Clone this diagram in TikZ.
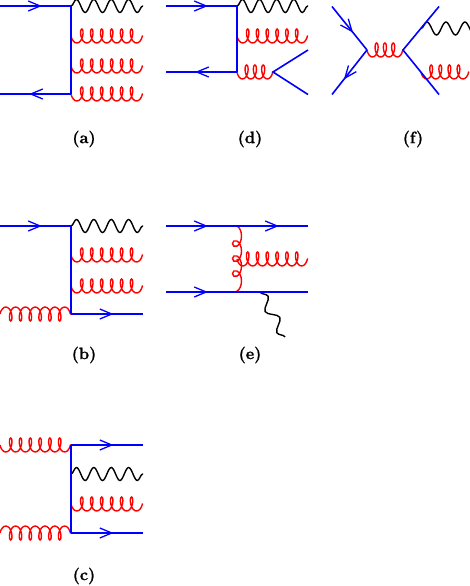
\documentclass[tikz,border=0pt]{standalone}
\usepackage{fontspec}
\usepackage{tikz}
\usepackage{xcolor}
\usetikzlibrary{arrows.meta,decorations.pathmorphing,decorations.markings}

\newfontfamily\capfont{Latin Modern Roman}[BoldFeatures={FakeBold=1}]

\definecolor{qblue}{RGB}{0,0,255}
\definecolor{gred}{RGB}{255,0,0}

\tikzset{
    quark/.style={qblue,line width=1.6pt},
    fermion/.style={quark,postaction={decorate},decoration={markings,
        mark=at position #1 with {\arrow{Straight Barb[length=12pt,width=10pt,line width=1.3pt]}}}},
    fermion/.default=0.59,
    gluon/.style={gred,line width=1.4pt,decorate,decoration={coil,amplitude=7pt,segment length=#1,aspect=0.48,mirror}},
    gluon/.default=9.95pt,
    gluonflip/.style={gred,line width=1.4pt,decorate,decoration={coil,amplitude=7pt,segment length=#1,aspect=0.48}},
    gluonflip/.default=9.8pt,
    tinygluon/.style={gred,line width=1.4pt,decorate,decoration={coil,amplitude=4.5pt,segment length=15pt,aspect=1.4}},
    photon/.style={black,line width=1.4pt,decorate,decoration={snake,amplitude=6.5pt,segment length=#1}},
    photon/.default=17.4pt,
    tinyphoton/.style={black,line width=1.4pt,decorate,decoration={snake,amplitude=5pt,segment length=24.2pt}},
    caption/.style={font=\capfont\bfseries\fontsize{16.5}{18}\selectfont}
}

\begin{document}
\begin{tikzpicture}[x=1pt,y=-1pt]
    \useasboundingbox (0,0) rectangle (469,586);

    % (a)
    \coordinate (a1) at (0,6);
    \coordinate (a2) at (71,6);
    \coordinate (a3) at (71,94);
    \coordinate (a4) at (0,94);
    \coordinate (a5) at (143,6);
    \foreach \y in {36,66,94} {
        \coordinate (s) at (71,\y);
        \coordinate (t) at (143,\y);
        \draw[gluon] (s) -- (t);
    }
    \draw[photon] (a2) -- (a5);
    \draw[fermion] (a1) -- (a2);
    \draw[quark] (a2) -- (a3);
    \draw[fermion] (a3) -- (a4);
    \node[caption] (capa) at (84,139) {(a)};

    % (d)
    \coordinate (d1) at (166,6);
    \coordinate (d2) at (237,6);
    \coordinate (d3) at (237,72);
    \coordinate (d4) at (166,72);
    \coordinate (d5) at (308,6);
    \coordinate (d6) at (237,36);
    \coordinate (d7) at (308,36);
    \coordinate (d8) at (273,72);
    \coordinate (d9) at (308,50);
    \coordinate (d10) at (308,94.5);
    \draw[photon=17.15pt] (d2) -- (d5);
    \draw[gluon=9.8pt] (d6) -- (d7);
    \draw[gluon=8.3pt] (d3) -- (d8);
    \draw[fermion] (d1) -- (d2);
    \draw[quark] (d2) -- (d3);
    \draw[fermion] (d3) -- (d4);
    \draw[quark] (d9) -- (d8) -- (d10);
    \node[caption] (capd) at (250,139) {(d)};

    % (f)
    \coordinate (f1) at (332,6.5);
    \coordinate (f2) at (367,50);
    \coordinate (f3) at (332,94.5);
    \coordinate (f4) at (403,50);
    \coordinate (f5) at (439,6.5);
    \coordinate (f6) at (439,94.5);
    \coordinate (f7) at (421,28.5);
    \coordinate (f8) at (481,28.5);
    \coordinate (f9) at (421,72);
    \coordinate (f10) at (469,72);
    \draw[gluon=8.3pt] (f2) -- (f4);
    \draw[photon=19pt] (f7) -- (f8);
    \draw[gluon=9.1pt] (f9) -- (f10);
    \draw[fermion=0.6] (f1) -- (f2);
    \draw[fermion=0.66] (f2) -- (f3);
    \draw[quark] (f5) -- (f4) -- (f6);
    \node[caption] (capf) at (413,139) {(f)};

    % (b)
    \coordinate (b1) at (0,226);
    \coordinate (b2) at (71,226);
    \coordinate (b3) at (71,314);
    \coordinate (b4) at (0,314);
    \coordinate (b5) at (143,226);
    \coordinate (b6) at (143,314);
    \foreach \y in {255,286} {
        \coordinate (s) at (71,\y);
        \coordinate (t) at (143,\y);
        \draw[gluon] (s) -- (t);
    }
    \draw[photon] (b2) -- (b5);
    \draw[gluonflip] (b4) -- (b3);
    \draw[fermion] (b1) -- (b2);
    \draw[quark] (b2) -- (b3);
    \draw[fermion] (b3) -- (b6);
    \node[caption] (capb) at (84,355) {(b)};

    % (e)
    \coordinate (e1) at (166,226);
    \coordinate (e2) at (237,226);
    \coordinate (e3) at (308,226);
    \coordinate (e4) at (166,292);
    \coordinate (e5) at (237,292);
    \coordinate (e6) at (308,292);
    \coordinate (e7) at (237,259);
    \coordinate (e8) at (308,259);
    \coordinate (e9) at (260,292);
    \coordinate (e10) at (285,337);
    \draw[tinygluon] (e2) -- (e5);
    \draw[gluon=9.8pt] (e7) -- (e8);
    \draw[tinyphoton] (e9) -- (e10);
    \draw[fermion] (e1) -- (e2);
    \draw[fermion] (e2) -- (e3);
    \draw[fermion] (e4) -- (e5);
    \draw[quark] (e5) -- (e6);
    \node[caption] (cape) at (250,355) {(e)};

    % (c)
    \coordinate (c1) at (0,445);
    \coordinate (c2) at (71,445);
    \coordinate (c3) at (71,533);
    \coordinate (c4) at (0,533);
    \coordinate (c5) at (143,445);
    \coordinate (c6) at (143,533);
    \coordinate (c7) at (71,474);
    \coordinate (c8) at (143,474);
    \coordinate (c9) at (71,504);
    \coordinate (c10) at (143,504);
    \draw[gluon=9.8pt] (c1) -- (c2);
    \draw[gluonflip] (c4) -- (c3);
    \draw[photon] (c7) -- (c8);
    \draw[gluon] (c9) -- (c10);
    \draw[fermion] (c2) -- (c5);
    \draw[quark] (c2) -- (c3);
    \draw[fermion] (c3) -- (c6);
    \node[caption] (capc) at (84,576) {(c)};
\end{tikzpicture}
\end{document}
